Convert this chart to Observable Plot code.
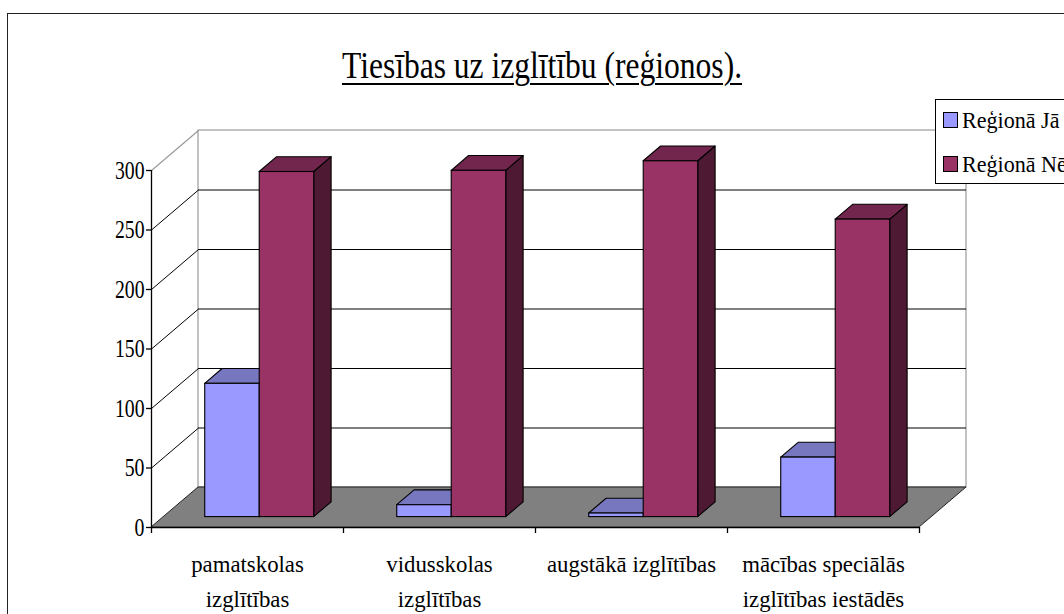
<!DOCTYPE html>
<html>
<head>
<meta charset="utf-8">
<script src="https://cdn.jsdelivr.net/npm/d3@7"></script>
<script src="https://cdn.jsdelivr.net/npm/@observablehq/plot@0.6"></script>
<style>
  body { margin: 0; background: #fff; }
  #wrap { position: relative; width: 1064px; height: 614px; overflow: hidden; font-family: "Liberation Serif", "Times New Roman", Times, "DejaVu Serif", serif; background: #fff; }
  #chart { position: absolute; left: 0; top: 0; }
  #chart svg text { font-family: "Liberation Serif", "Times New Roman", Times, "DejaVu Serif", serif; }
  #border { position: absolute; left: 7px; top: 13px; width: 1200px; height: 800px; border-left: 1.5px solid #222; border-top: 1.5px solid #222; pointer-events: none; }
  #title { position: absolute; left: 0; width: 1083px; top: 46px; text-align: center; font-size: 38px; line-height: 38px; color: #000; }
  #title span { display: inline-block; text-decoration: underline; text-decoration-thickness: 2px; text-underline-offset: 5px; transform: scaleX(0.83); transform-origin: center; white-space: nowrap; }
  #legend { position: absolute; left: 935px; top: 99px; width: 200px; height: 83px; border: 1px solid #000; background: #fff; }
  .lg-row { position: absolute; left: 0; height: 26px; white-space: nowrap; }
  .lg-sw { position: absolute; left: 7px; width: 13px; height: 14px; border: 1px solid #000; }
  .lg-tx { position: absolute; left: 26px; top: 0; font-size: 24px; line-height: 26px; transform: scaleX(0.92); transform-origin: left center; color: #000; }
</style>
</head>
<body>
<div id="wrap">
  <div id="chart"></div>
  <div id="border"></div>
  <div id="title"></div>
  <div id="legend"></div>
</div>
<script>
// ---- data ----
const categories = ["pamatskolas\nizglītības", "vidusskolas\nizglītības", "augstākā izglītības", "mācības speciālās\nizglītības iestādēs"];
const seriesNames = ["Reģionā Jā", "Reģionā Nē"];
const valuesJa = [112, 10, 3, 50];
const valuesNe = [290, 291, 299, 250];
const yTicks = [0, 50, 100, 150, 200, 250, 300];
const titleText = "Tiesības uz izglītību (reģionos).";
const frontColors = ["#9999ff", "#993366"];
const topColors = ["#7777c0", "#73264d"];
const sideColors = ["#4d4d80", "#4d1933"];

// ---- layout ----
const W = 1064, H = 614;
const M = {top: 170, right: 145, bottom: 87, left: 151};
const n = categories.length;
const yMax = 300;
const kx = (W - M.left - M.right) / n;   // px per category
const ky = (H - M.top - M.bottom) / yMax; // px per unit
const D = {x: 47 / kx, y: 40 / ky};       // full depth of the 3D box in data units
const barFront = 0.26, barDepth = 0.37, barW = 54.5 / kx;
const serif = "Liberation Serif, Times New Roman, DejaVu Serif, serif";

const bars = [];
categories.forEach((c, i) => {
  [valuesJa[i], valuesNe[i]].forEach((v, s) => {
    const xc = i + 0.5 + barFront * D.x;
    const y0 = barFront * D.y;
    bars.push({id: i * 2 + s, s, x1: s === 0 ? xc - barW : xc, x2: s === 0 ? xc : xc + barW, y0, y1: y0 + v});
  });
});
const sidePts = bars.flatMap(b => [
  {id: b.id, s: b.s, x: b.x2, lo: b.y0, hi: b.y1},
  {id: b.id, s: b.s, x: b.x2 + barDepth * D.x, lo: b.y0 + barDepth * D.y, hi: b.y1 + barDepth * D.y}
]);
const topPts = bars.flatMap(b => [
  {id: b.id, s: b.s, y: b.y1, a: b.x1, b: b.x2},
  {id: b.id, s: b.s, y: b.y1 + barDepth * D.y, a: b.x1 + barDepth * D.x, b: b.x2 + barDepth * D.x}
]);
const gridVals = yTicks.filter(v => v > 0 && v < yMax);

const faceMarks = [];
for (const s of [0, 1]) {
  faceMarks.push(
    Plot.areaY(sidePts.filter(d => d.s === s), {x: "x", y1: "lo", y2: "hi", z: "id", fill: sideColors[s], stroke: "#000", strokeWidth: 1.1}),
    Plot.areaX(topPts.filter(d => d.s === s), {y: "y", x1: "a", x2: "b", z: "id", fill: topColors[s], stroke: "#000", strokeWidth: 1.1}),
    Plot.rect(bars.filter(d => d.s === s), {x1: "x1", x2: "x2", y1: "y0", y2: "y1", fill: frontColors[s], stroke: "#000", strokeWidth: 1.1})
  );
}

const chart = Plot.plot({
  width: W, height: H,
  marginTop: M.top, marginRight: M.right, marginBottom: M.bottom, marginLeft: M.left,
  style: {background: "transparent", fontFamily: serif, color: "#000"},
  x: {type: "linear", domain: [0, n], axis: null},
  y: {type: "linear", domain: [0, yMax], axis: null},
  marks: [
    // back wall
    Plot.rect([0], {x1: D.x, x2: n + D.x, y1: D.y, y2: yMax + D.y, fill: "#fff", stroke: "#9a9a9a", strokeWidth: 1.2}),
    // floor
    Plot.areaX([{y: 0, a: 0, b: n}, {y: D.y, a: D.x, b: n + D.x}], {y: "y", x1: "a", x2: "b", fill: "#808080", stroke: "#222", strokeWidth: 1}),
    // gridlines on back wall
    Plot.ruleY(gridVals, {y: d => d + D.y, x1: D.x, x2: n + D.x, stroke: "#000", strokeWidth: 1}),
    // diagonals on the left wall
    Plot.link(gridVals, {x1: 0, y1: d => d, x2: D.x, y2: d => d + D.y, stroke: "#000", strokeWidth: 1}),
    Plot.link([yMax], {x1: 0, y1: d => d, x2: D.x, y2: d => d + D.y, stroke: "#9a9a9a", strokeWidth: 1.2}),
    // front axes
    Plot.ruleX([0], {y1: 0, y2: yMax, stroke: "#000", strokeWidth: 1.3}),
    Plot.ruleY([0], {x1: 0, x2: n, stroke: "#000", strokeWidth: 1.3}),
    Plot.ruleY(yTicks, {x1: -5 / kx, x2: 0, stroke: "#000", strokeWidth: 1.3}),
    Plot.ruleX(d3.range(n + 1), {y1: 0, y2: -6 / ky, stroke: "#000", strokeWidth: 1.3}),
    // bars
    ...faceMarks,
    // tick labels
    Plot.text(yTicks, {x: 0, y: d => d, dx: -7, textAnchor: "end", text: d => String(d), fontSize: 26, fontFamily: serif, fill: "#000"}),
    Plot.text(categories, {x: (d, i) => i + 0.5, y: 0, dy: 37, text: d => d.split("\n")[0], fontSize: 24, fontFamily: serif, fill: "#000"}),
    Plot.text(categories, {x: (d, i) => i + 0.5, y: 0, dy: 72, text: d => d.split("\n")[1] || "", fontSize: 24, fontFamily: serif, fill: "#000"})
  ]
});
document.getElementById("chart").appendChild(chart);

// narrow the serif glyphs like the original rendering
const ratioBySize = {26: 0.76, 24: 0.95};
chart.querySelectorAll("text").forEach(t => {
  const fs = Math.round(parseFloat(getComputedStyle(t).fontSize));
  const r = ratioBySize[fs] || 0.9;
  const L = t.getComputedTextLength();
  if (L > 0) {
    t.setAttribute("textLength", (L * r).toFixed(1));
    t.setAttribute("lengthAdjust", "spacingAndGlyphs");
  }
});

// title
const ts = document.createElement("span");
ts.textContent = titleText;
document.getElementById("title").appendChild(ts);

// legend
const legend = document.getElementById("legend");
seriesNames.forEach((name, s) => {
  const row = document.createElement("div");
  row.className = "lg-row";
  row.style.top = (7 + s * 44) + "px";
  const sw = document.createElement("div");
  sw.className = "lg-sw";
  sw.style.top = "5px";
  sw.style.background = frontColors[s];
  const tx = document.createElement("div");
  tx.className = "lg-tx";
  tx.textContent = name;
  row.appendChild(sw); row.appendChild(tx);
  legend.appendChild(row);
});
</script>
</body>
</html>
